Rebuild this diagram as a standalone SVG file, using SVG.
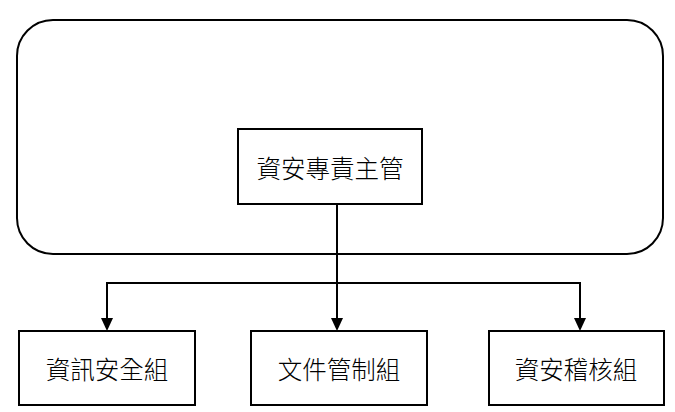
<svg xmlns="http://www.w3.org/2000/svg" width="675" height="412" viewBox="0 0 675 412">
<style>
.box{fill:#fff;stroke:#000;stroke-width:2}
.frame{fill:none;stroke:#000;stroke-width:2}
.lbl{font-family:"Noto Sans CJK TC","Noto Sans CJK SC",sans-serif;font-size:24.5px;font-weight:300;fill:#000;text-anchor:middle;dominant-baseline:central}
.conn{fill:none;stroke:#000;stroke-width:2}
.arrow{fill:#000}
</style>
<g id="frame">
<rect class="frame" x="17" y="20" width="646" height="234" rx="36" ry="36"/>
</g>
<g id="connectors">
<line class="conn" x1="337" y1="204" x2="337" y2="318"/>
<polyline class="conn" points="107,318 107,283 580,283 580,318"/>
<path class="arrow" d="M101,318 L113,318 L107,331 Z"/>
<path class="arrow" d="M331,318 L343,318 L337,331 Z"/>
<path class="arrow" d="M574,318 L586,318 L580,331 Z"/>
</g>
<g id="head">
<rect class="box" x="238" y="129" width="184" height="75"/>
<text class="lbl" x="330" y="167">資安專責主管</text>
</g>
<g id="g1">
<rect class="box" x="19" y="331" width="176" height="74"/>
<text class="lbl" x="107" y="368">資訊安全組</text>
</g>
<g id="g2">
<rect class="box" x="251" y="331" width="176" height="74"/>
<text class="lbl" x="339" y="368">文件管制組</text>
</g>
<g id="g3">
<rect class="box" x="489" y="331" width="175" height="74"/>
<text class="lbl" x="576" y="368">資安稽核組</text>
</g>
</svg>
